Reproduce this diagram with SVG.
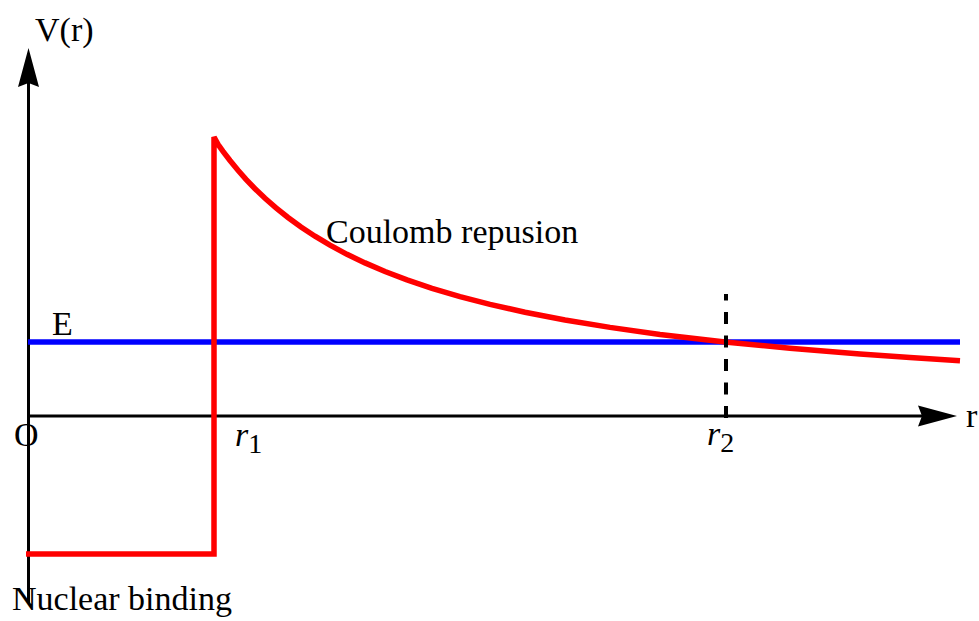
<svg xmlns="http://www.w3.org/2000/svg" width="979" height="621" viewBox="0 0 979 621">
<style>
text{font-family:"Liberation Serif","Times New Roman",serif;font-size:34px;fill:#000}
.it{font-style:italic}
.sub{font-size:28px;font-style:normal}
.axis{stroke:#000;stroke-width:3;fill:none}
.red{stroke:#ff0000;stroke-width:5.5;fill:none}
.blue{stroke:#0000ff;stroke-width:5.5;fill:none}
</style>
<rect width="979" height="621" fill="#fff"/>
<g id="axes">
<line class="axis" x1="28.5" y1="603" x2="28.5" y2="82"/>
<path d="M28.5,48 L39,87 L28.5,83 L18,87 Z" fill="#000"/>
<line class="axis" x1="27" y1="416" x2="922" y2="416"/>
<path d="M957,416 L918,426.5 L922,416 L918,405.5 Z" fill="#000"/>
</g>
<g id="energy">
<line class="blue" x1="28" y1="342" x2="960" y2="342"/>
</g>
<g id="potential">
<path class="red" stroke-linejoin="miter" d="M26,554 L214,554 L214,137 L218,144.4 L223,151.3 L230,160.5 L238,170.2 L246,179.3 L255,188.7 L265,198.3 L276,207.9 L288,217.5 L301,227 L315,236.2 L330,245.2 L347,254.3 L365,262.9 L385,271.5 L407,279.9 L432,288.3 L460,296.6 L490,304.4 L525,312.2 L565,320 L610,327.4 L660,334.4 L725,342 L790,348.3 L860,354 L910,357.5 L960,360.7"/>
</g>
<g id="connectors">
<line x1="726" y1="418" x2="726" y2="294" stroke="#000" stroke-width="4" stroke-dasharray="12 11.5"/>
</g>
<g id="labels">
<text x="35" y="41">V(r)</text>
<text x="52" y="335">E</text>
<text x="14" y="446">O</text>
<text x="966" y="427">r</text>
<text x="235" y="446" class="it">r<tspan class="sub" dy="7">1</tspan></text>
<text x="707" y="445" class="it">r<tspan class="sub" dy="7">2</tspan></text>
<text x="326" y="243">Coulomb repusion</text>
<text x="12" y="610">Nuclear binding</text>
</g>
</svg>
